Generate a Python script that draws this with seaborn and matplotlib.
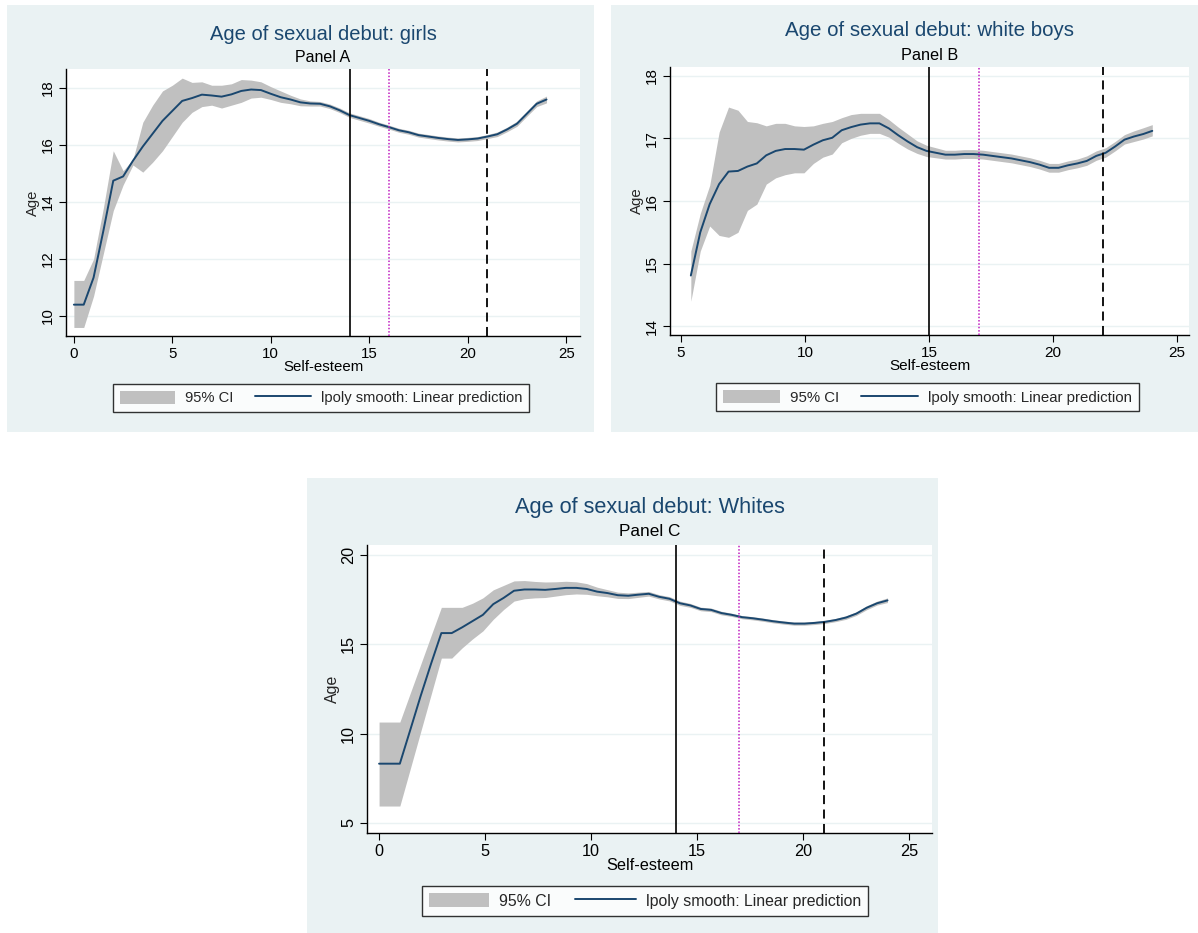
import numpy as np
import matplotlib
matplotlib.use("Agg")
import matplotlib.pyplot as plt
import seaborn as sns
from matplotlib.patches import Rectangle, Patch
from matplotlib.lines import Line2D

sns.set_style("white")
plt.rcParams['font.family'] = ['Liberation Sans', 'DejaVu Sans']

# ---- Panel A: girls ----
girls_x = [0, 0.5, 1, 1.5, 2, 2.5, 3, 3.5, 4, 4.5, 5, 5.5, 6, 6.5, 7, 7.5, 8, 8.5,
           9, 9.5, 10, 10.5, 11, 11.5, 12, 12.5, 13, 13.5, 14, 14.5, 15, 15.5, 16,
           16.5, 17, 17.5, 18, 18.5, 19, 19.5, 20, 20.5, 21, 21.5, 22, 22.5, 23, 23.5, 24]
girls_fit = [10.4, 10.4, 11.35, 13.0, 14.75, 14.9, 15.45, 15.95, 16.4, 16.85, 17.2, 17.55,
             17.65, 17.77, 17.74, 17.7, 17.78, 17.9, 17.95, 17.93, 17.8, 17.68, 17.6, 17.5,
             17.46, 17.45, 17.36, 17.22, 17.05, 16.95, 16.85, 16.73, 16.63, 16.52, 16.45,
             16.35, 16.3, 16.25, 16.21, 16.18, 16.2, 16.23, 16.3, 16.38, 16.55, 16.75, 17.1,
             17.45, 17.6]
girls_hi = [11.25, 11.25, 12.0, 13.8, 15.8, 15.1, 15.5, 16.8, 17.4, 17.9, 18.1, 18.35,
            18.2, 18.22, 18.1, 18.1, 18.15, 18.3, 18.28, 18.22, 18.05, 17.9, 17.75, 17.62,
            17.55, 17.53, 17.44, 17.3, 17.13, 17.03, 16.93, 16.8, 16.7, 16.59, 16.52, 16.42,
            16.37, 16.32, 16.28, 16.25, 16.27, 16.3, 16.37, 16.46, 16.63, 16.84, 17.19,
            17.55, 17.72]
girls_lo = [9.6, 9.6, 10.7, 12.2, 13.7, 14.6, 15.3, 15.05, 15.4, 15.8, 16.3, 16.8, 17.15,
            17.35, 17.4, 17.3, 17.4, 17.5, 17.65, 17.68, 17.6, 17.5, 17.45, 17.38, 17.37,
            17.37, 17.28, 17.14, 16.97, 16.87, 16.77, 16.66, 16.56, 16.45, 16.38, 16.28,
            16.23, 16.18, 16.14, 16.11, 16.13, 16.16, 16.23, 16.3, 16.47, 16.66, 17.01,
            17.35, 17.48]

# ---- Panel B: white boys ----
boys_x = [5.4, 5.78, 6.16, 6.54, 6.92, 7.3, 7.68, 8.06, 8.44, 8.82, 9.2, 9.58, 9.96,
          10.34, 10.72, 11.1, 11.48, 11.86, 12.24, 12.62, 13.0, 13.38, 13.76, 14.14, 14.52,
          14.9, 15.28, 15.66, 16.04, 16.42, 16.8, 17.18, 17.56, 17.94, 18.32, 18.7, 19.08,
          19.46, 19.84, 20.22, 20.6, 20.98, 21.36, 21.74, 22.12, 22.5, 22.88, 23.26, 23.64, 24.0]
boys_fit = [14.81, 15.5, 15.95, 16.27, 16.47, 16.48, 16.55, 16.6, 16.73, 16.8, 16.83, 16.83,
            16.82, 16.9, 16.97, 17.01, 17.13, 17.18, 17.22, 17.24, 17.24, 17.16, 17.05, 16.95,
            16.86, 16.8, 16.77, 16.74, 16.74, 16.75, 16.75, 16.74, 16.72, 16.7, 16.68, 16.65,
            16.62, 16.58, 16.53, 16.53, 16.57, 16.6, 16.64, 16.72, 16.77, 16.87, 16.98, 17.03,
            17.07, 17.12]
boys_hi = [15.2, 15.8, 16.25, 17.1, 17.5, 17.45, 17.27, 17.25, 17.2, 17.24, 17.24, 17.2,
           17.19, 17.2, 17.24, 17.27, 17.33, 17.38, 17.4, 17.4, 17.4, 17.3, 17.18, 17.07,
           16.96, 16.89, 16.85, 16.81, 16.81, 16.82, 16.82, 16.81, 16.79, 16.77, 16.75, 16.72,
           16.69, 16.65, 16.6, 16.6, 16.64, 16.67, 16.72, 16.8, 16.85, 16.95, 17.06, 17.12,
           17.17, 17.22]
boys_lo = [14.4, 15.2, 15.6, 15.45, 15.42, 15.5, 15.85, 15.95, 16.27, 16.37, 16.42, 16.45,
           16.45, 16.6, 16.7, 16.75, 16.93, 17.0, 17.05, 17.08, 17.08, 17.02, 16.92, 16.83,
           16.76, 16.71, 16.69, 16.67, 16.67, 16.68, 16.68, 16.67, 16.65, 16.63, 16.61, 16.58,
           16.55, 16.51, 16.46, 16.46, 16.5, 16.53, 16.57, 16.65, 16.7, 16.8, 16.91, 16.95,
           16.99, 17.04]

# ---- Panel C: whites ----
whites_x = [0, 0.49, 0.98, 1.47, 1.96, 2.45, 2.94, 3.43, 3.92, 4.41, 4.9, 5.39, 5.88, 6.37,
            6.86, 7.35, 7.84, 8.33, 8.82, 9.31, 9.8, 10.29, 10.78, 11.27, 11.76, 12.24, 12.73,
            13.22, 13.71, 14.2, 14.69, 15.18, 15.67, 16.16, 16.65, 17.14, 17.63, 18.12, 18.61,
            19.1, 19.59, 20.08, 20.57, 21.06, 21.55, 22.04, 22.53, 23.02, 23.51, 24.0]
whites_fit = [8.32, 8.32, 8.32, 10.2, 12.1, 13.9, 15.63, 15.63, 15.95, 16.3, 16.65, 17.25,
              17.6, 18.0, 18.07, 18.07, 18.05, 18.1, 18.16, 18.16, 18.1, 17.95, 17.87, 17.75,
              17.72, 17.78, 17.83, 17.66, 17.55, 17.3, 17.18, 16.98, 16.93, 16.75, 16.65,
              16.52, 16.46, 16.38, 16.29, 16.22, 16.16, 16.16, 16.2, 16.26, 16.36, 16.5, 16.72,
              17.05, 17.3, 17.46]
whites_hi = [10.65, 10.65, 10.65, 12.26, 13.86, 15.47, 17.07, 17.07, 17.07, 17.3, 17.6, 18.05,
             18.3, 18.55, 18.57, 18.52, 18.49, 18.5, 18.53, 18.5, 18.4, 18.2, 18.06, 17.92,
             17.88, 17.92, 17.96, 17.78, 17.67, 17.42, 17.29, 17.08, 17.03, 16.85, 16.74,
             16.61, 16.55, 16.47, 16.38, 16.31, 16.25, 16.25, 16.29, 16.35, 16.45, 16.6, 16.82,
             17.16, 17.42, 17.6]
whites_lo = [5.95, 5.95, 5.95, 8.02, 10.09, 12.16, 14.23, 14.23, 14.8, 15.3, 15.75, 16.4,
             16.95, 17.42, 17.55, 17.6, 17.62, 17.7, 17.78, 17.82, 17.8, 17.72, 17.66, 17.57,
             17.56, 17.63, 17.7, 17.54, 17.43, 17.18, 17.07, 16.88, 16.83, 16.65, 16.56, 16.43,
             16.37, 16.29, 16.2, 16.13, 16.07, 16.07, 16.11, 16.17, 16.27, 16.4, 16.62, 16.94,
             17.2, 17.34]

W, H = 1198, 933
BG = '#EAF2F3'
NAVY = '#1A476F'
CI_GRAY = '#C0C0C0'

fig = plt.figure(figsize=(W / 100, H / 100), dpi=100)
fig.patch.set_facecolor('white')


def px_rect(l, t, r, b):
    return [l / W, 1 - b / H, (r - l) / W, (b - t) / H]


def panel(bg, area, title, subtitle, x, fit, lo, hi, xlim, ylim, yticks, xticks,
          vlines, title_y, sub_y, xlab_y, leg_box, fs=1.0):
    # light blue-gray panel background, drawn behind the axes
    l, t, r, b = bg
    fig.patches.append(Rectangle((l / W, 1 - b / H), (r - l) / W, (b - t) / H,
                                 transform=fig.transFigure, facecolor=BG,
                                 edgecolor='none', zorder=-10))
    ax = fig.add_axes(px_rect(*area))
    ax.set_zorder(1)
    ax.set_facecolor('white')
    ax.fill_between(x, lo, hi, color=CI_GRAY, lw=0, zorder=2)
    sns.lineplot(x=x, y=fit, ax=ax, color=NAVY, lw=1.4, zorder=3)
    ax.axvline(vlines[0], color='black', lw=1.2, zorder=4)
    ax.axvline(vlines[1], color='#C020C0', lw=1.1, ls=(0, (1, 1.2)), zorder=4)
    ax.axvline(vlines[2], color='black', lw=1.3, ls=(0, (5, 3)), zorder=4)
    ax.set_xlim(*xlim)
    ax.set_ylim(*ylim)
    ax.set_xticks(xticks)
    ax.set_yticks(yticks)
    ax.grid(axis='y', color=BG, lw=1.0, zorder=1)
    ax.grid(axis='x', visible=False)
    ax.set_axisbelow(True)
    for s in ['top', 'right']:
        ax.spines[s].set_visible(False)
    for s in ['left', 'bottom']:
        ax.spines[s].set_color('black')
        ax.spines[s].set_linewidth(1.0)
    ax.tick_params(axis='both', direction='out', length=5, width=0.8, color='black',
                   labelsize=10.8 * fs, labelcolor='black', pad=3, left=True, bottom=True)
    plt.setp(ax.get_yticklabels(), rotation=90, va='center')
    ax.set_xlabel('')
    ax.set_ylabel('Age', fontsize=10.6 * fs, labelpad=1)

    cx = (area[0] + area[2]) / 2 / W
    fig.text(cx, 1 - title_y / H, title, ha='center', va='center', fontsize=14.5 * fs,
             color=NAVY)
    fig.text(cx, 1 - sub_y / H, subtitle, ha='center', va='center', fontsize=11.5 * fs,
             color='black')
    fig.text(cx, 1 - xlab_y / H, 'Self-esteem', ha='center', va='center',
             fontsize=10.8 * fs, color='black')

    handles = [Patch(facecolor=CI_GRAY, edgecolor='none'),
               Line2D([0], [0], color=NAVY, lw=1.4)]
    lcx = (leg_box[0] + leg_box[2]) / 2 / W
    leg = ax.legend(handles, ['95% CI', 'lpoly smooth: Linear prediction'],
                    loc='upper center', bbox_to_anchor=(lcx, 1 - leg_box[1] / H),
                    bbox_transform=fig.transFigure, ncol=2, frameon=True,
                    fancybox=False, edgecolor='black', fontsize=10.6 * fs,
                    handlelength=3.8, handleheight=1.0, handletextpad=0.65,
                    columnspacing=1.5, borderpad=0.45, borderaxespad=0)
    leg.get_frame().set_linewidth(1.0)
    leg.get_frame().set_facecolor('white')
    return ax


panel((7, 5, 594, 432), (66, 69, 580, 336), 'Age of sexual debut: girls', 'Panel A',
      girls_x, girls_fit, girls_lo, girls_hi, (-0.4, 25.7), (9.3, 18.67),
      [10, 12, 14, 16, 18], [0, 5, 10, 15, 20, 25], (14, 16, 21),
      35, 58, 367, (112, 384, 530, 412))

panel((611, 5, 1198, 432), (670, 67, 1189, 335), 'Age of sexual debut: white boys',
      'Panel B', boys_x, boys_fit, boys_lo, boys_hi, (4.56, 25.48), (13.86, 18.14),
      [14, 15, 16, 17, 18], [5, 10, 15, 20, 25], (15, 17, 22),
      31, 55, 366, (717, 383, 1138, 411), fs=1.02)

panel((307, 478, 938, 933), (367, 545, 932, 833), 'Age of sexual debut: Whites',
      'Panel C', whites_x, whites_fit, whites_lo, whites_hi, (-0.57, 26.1), (4.44, 20.56),
      [5, 10, 15, 20], [0, 5, 10, 15, 20, 25], (14, 17, 21),
      507, 532, 866, (420, 886, 870, 913), fs=1.08)

fig.savefig('out.png', dpi=100, facecolor='white')
